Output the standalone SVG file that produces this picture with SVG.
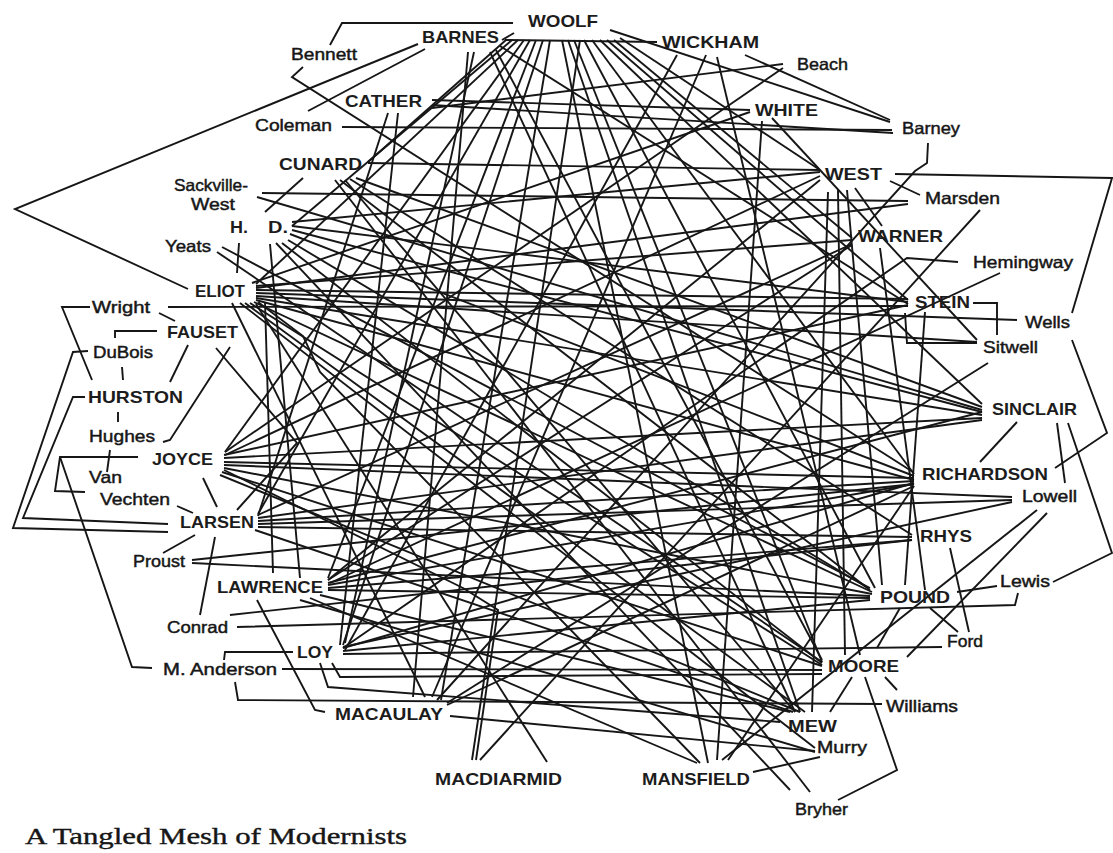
<svg xmlns="http://www.w3.org/2000/svg" width="1113" height="853" viewBox="0 0 1113 853">
<style>
.e{fill:none;stroke:#161616;stroke-width:1.9;stroke-linejoin:miter}
.c{font-family:"Liberation Sans",Arial,sans-serif;font-size:16.5px;font-weight:bold;fill:#1c1c1c}
.l{font-family:"Liberation Sans",Arial,sans-serif;font-size:16.5px;fill:#161616;stroke:#161616;stroke-width:0.45}
.cap{font-family:"Liberation Serif","Times New Roman",serif;font-size:24px;fill:#161616;stroke:#161616;stroke-width:0.4}
</style>
<rect width="1113" height="853" fill="#ffffff"/>
<g id="connectors" class="e">
<path d="M330,45 L342,23 L513,23"/>
<path d="M303,67 L292,77 L913,472"/>
<path d="M418,44 L15,209 L188,289"/>
<path d="M425,49 L308,111"/>
<path d="M342,127 L892,130"/>
<path d="M432,100 L750,110"/>
<path d="M432,105 L893,133"/>
<path d="M610,30 L890,122"/>
<path d="M745,55 L890,120"/>
<path d="M783,64 L432,108"/>
<path d="M783,68 L225,452"/>
<path d="M303,178 L265,212"/>
<path d="M262,193 L908,201"/>
<path d="M257,197 L982,410"/>
<path d="M895,174 L1112,178 L1072,313"/>
<path d="M928,143 L927,163 L915,171 L437,700"/>
<path d="M890,181 L920,195"/>
<path d="M980,210 L480,760"/>
<path d="M958,262 L907,258 L343,648"/>
<path d="M1000,273 L330,583"/>
<path d="M973,303 L997,303 L997,335"/>
<path d="M168,307 L908,306"/>
<path d="M905,313 L907,343 L977,343"/>
<path d="M1072,340 L1107,433 L1055,468"/>
<path d="M1017,422 L980,462"/>
<path d="M1057,423 L1065,483"/>
<path d="M1068,423 L1112,553 L1053,582"/>
<path d="M988,363 L447,703"/>
<path d="M907,657 L1047,513"/>
<path d="M1037,510 L722,760"/>
<path d="M950,548 L969,632"/>
<path d="M957,592 L997,586"/>
<path d="M1018,593 L1015,605 L237,627"/>
<path d="M930,608 L958,632"/>
<path d="M900,608 L877,648"/>
<path d="M885,677 L897,690"/>
<path d="M865,677 L897,770 L838,800"/>
<path d="M852,677 L830,712"/>
<path d="M820,757 L753,772"/>
<path d="M90,307 L62,307 L92,380"/>
<path d="M159,313 L175,321"/>
<path d="M157,331 L115,331 L115,338"/>
<path d="M88,351 L73,352 L13,528 L168,532"/>
<path d="M122,367 L123,380"/>
<path d="M85,397 L73,397 L23,518 L168,524"/>
<path d="M188,345 L170,382"/>
<path d="M230,347 L170,440 L163,442"/>
<path d="M216,348 L297,443 L237,510"/>
<path d="M118,412 L118,422"/>
<path d="M110,450 L107,472"/>
<path d="M138,457 L60,457 L55,491 L85,492"/>
<path d="M60,457 L132,667 L152,668"/>
<path d="M177,506 L193,513"/>
<path d="M203,478 L217,507"/>
<path d="M195,535 L163,553"/>
<path d="M215,537 L200,615"/>
<path d="M293,652 L225,652 L224,660"/>
<path d="M282,669 L822,670"/>
<path d="M235,682 L238,700 L882,704"/>
<path d="M320,663 L328,687 L780,722"/>
<path d="M332,663 L340,677 L822,674"/>
<path d="M257,600 L315,710 L325,712"/>
<path d="M450,716 L815,751"/>
<path d="M239,243 L237,273"/>
<path d="M222,247 L870,588"/>
<path d="M217,252 L822,662"/>
<path d="M506,40 L368,162"/>
<path d="M512,40 L292,226"/>
<path d="M518,40 L256,284"/>
<path d="M524,40 L225,452"/>
<path d="M530,40 L258,514"/>
<path d="M536,40 L328,578"/>
<path d="M543,40 L343,645"/>
<path d="M550,40 L441,700"/>
<path d="M580,40 L472,760"/>
<path d="M562,40 L708,763"/>
<path d="M568,40 L800,712"/>
<path d="M574,40 L822,662"/>
<path d="M584,40 L875,588"/>
<path d="M592,40 L914,474"/>
<path d="M600,40 L982,404"/>
<path d="M607,40 L908,300"/>
<path d="M614,40 L852,238"/>
<path d="M620,38 L820,170"/>
<path d="M502,40 L514,33"/>
<path d="M505,40 L657,42"/>
<path d="M468,52 L413,697"/>
<path d="M474,52 L345,643"/>
<path d="M490,52 L795,712"/>
<path d="M496,50 L822,660"/>
<path d="M500,46 L908,304"/>
<path d="M677,55 L345,650"/>
<path d="M706,55 L432,697"/>
<path d="M717,57 L860,655"/>
<path d="M388,113 L258,516"/>
<path d="M398,113 L340,645"/>
<path d="M368,163 L820,170"/>
<path d="M356,178 L982,407"/>
<path d="M345,180 L795,712"/>
<path d="M350,179 L912,535"/>
<path d="M340,180 L870,590"/>
<path d="M335,180 L810,792"/>
<path d="M772,118 L977,340"/>
<path d="M252,283 L750,112"/>
<path d="M762,121 L717,760"/>
<path d="M828,192 L812,712"/>
<path d="M838,190 L845,655"/>
<path d="M847,190 L882,585"/>
<path d="M855,188 L882,226"/>
<path d="M225,455 L820,176"/>
<path d="M328,580 L820,180"/>
<path d="M292,222 L820,172"/>
<path d="M292,226 L908,302"/>
<path d="M292,230 L982,412"/>
<path d="M290,234 L914,476"/>
<path d="M288,240 L868,588"/>
<path d="M282,243 L822,663"/>
<path d="M276,243 L790,790"/>
<path d="M270,244 L300,578"/>
<path d="M256,290 L908,299"/>
<path d="M256,293 L1017,320"/>
<path d="M256,296 L977,342"/>
<path d="M256,298 L982,415"/>
<path d="M256,300 L914,480"/>
<path d="M254,302 L872,592"/>
<path d="M250,303 L822,665"/>
<path d="M245,303 L805,712"/>
<path d="M240,303 L815,748"/>
<path d="M265,302 L273,573"/>
<path d="M256,304 L547,762"/>
<path d="M256,286 L852,240"/>
<path d="M256,288 L908,204"/>
<path d="M258,302 L303,336 L320,372 L700,763"/>
<path d="M232,303 L425,697"/>
<path d="M224,455 L908,305"/>
<path d="M224,458 L982,418"/>
<path d="M224,462 L914,478"/>
<path d="M224,465 L1012,497"/>
<path d="M224,468 L872,594"/>
<path d="M222,472 L822,666"/>
<path d="M220,475 L800,712"/>
<path d="M224,470 L463,588 L498,610 L476,760"/>
<path d="M258,515 L852,244"/>
<path d="M258,518 L982,420"/>
<path d="M258,521 L914,481"/>
<path d="M258,524 L1012,500"/>
<path d="M258,527 L912,537"/>
<path d="M255,530 L793,712"/>
<path d="M192,560 L914,484"/>
<path d="M192,563 L870,596"/>
<path d="M230,615 L912,540"/>
<path d="M328,580 L852,245"/>
<path d="M328,583 L982,412"/>
<path d="M328,585 L914,484"/>
<path d="M328,588 L912,540"/>
<path d="M328,590 L870,598"/>
<path d="M320,595 L790,712"/>
<path d="M300,600 L815,752"/>
<path d="M310,598 L697,763"/>
<path d="M343,648 L914,483"/>
<path d="M343,651 L870,600"/>
<path d="M343,654 L942,647"/>
<path d="M343,647 L1012,502"/>
<path d="M925,312 L905,585"/>
<path d="M880,248 L925,590"/>
<path d="M447,705 L914,486"/>
<path d="M728,760 L914,486"/>
</g>
<g id="n-woolf"><text class="c" x="528" y="27" textLength="70" lengthAdjust="spacingAndGlyphs">WOOLF</text></g>
<g id="n-barnes"><text class="c" x="422" y="43" textLength="77" lengthAdjust="spacingAndGlyphs">BARNES</text></g>
<g id="n-wickham"><text class="c" x="662" y="48" textLength="97" lengthAdjust="spacingAndGlyphs">WICKHAM</text></g>
<g id="n-bennett"><text class="l" x="291" y="60" textLength="66" lengthAdjust="spacingAndGlyphs">Bennett</text></g>
<g id="n-beach"><text class="l" x="797" y="70" textLength="51" lengthAdjust="spacingAndGlyphs">Beach</text></g>
<g id="n-cather"><text class="c" x="345" y="107" textLength="77" lengthAdjust="spacingAndGlyphs">CATHER</text></g>
<g id="n-white"><text class="c" x="755" y="116" textLength="63" lengthAdjust="spacingAndGlyphs">WHITE</text></g>
<g id="n-coleman"><text class="l" x="255" y="131" textLength="77" lengthAdjust="spacingAndGlyphs">Coleman</text></g>
<g id="n-barney"><text class="l" x="902" y="134" textLength="58" lengthAdjust="spacingAndGlyphs">Barney</text></g>
<g id="n-cunard"><text class="c" x="279" y="170" textLength="83" lengthAdjust="spacingAndGlyphs">CUNARD</text></g>
<g id="n-west"><text class="c" x="825" y="180" textLength="57" lengthAdjust="spacingAndGlyphs">WEST</text></g>
<g id="n-sackville-west"><text class="l" x="174" y="191" textLength="74" lengthAdjust="spacingAndGlyphs">Sackville-</text><text class="l" x="191" y="210" textLength="44" lengthAdjust="spacingAndGlyphs">West</text></g>
<g id="n-marsden"><text class="l" x="925" y="204" textLength="75" lengthAdjust="spacingAndGlyphs">Marsden</text></g>
<g id="n-hd"><text class="c" x="230" y="233" textLength="18" lengthAdjust="spacingAndGlyphs">H.</text><text class="c" x="268" y="233" textLength="20" lengthAdjust="spacingAndGlyphs">D.</text></g>
<g id="n-warner"><text class="c" x="858" y="242" textLength="85" lengthAdjust="spacingAndGlyphs">WARNER</text></g>
<g id="n-yeats"><text class="l" x="165" y="252" textLength="46" lengthAdjust="spacingAndGlyphs">Yeats</text></g>
<g id="n-hemingway"><text class="l" x="973" y="268" textLength="100" lengthAdjust="spacingAndGlyphs">Hemingway</text></g>
<g id="n-eliot"><text class="c" x="195" y="297" textLength="50" lengthAdjust="spacingAndGlyphs">ELIOT</text></g>
<g id="n-stein"><text class="c" x="915" y="308" textLength="55" lengthAdjust="spacingAndGlyphs">STEIN</text></g>
<g id="n-wright"><text class="l" x="92" y="313" textLength="58" lengthAdjust="spacingAndGlyphs">Wright</text></g>
<g id="n-wells"><text class="l" x="1025" y="328" textLength="45" lengthAdjust="spacingAndGlyphs">Wells</text></g>
<g id="n-fauset"><text class="c" x="167" y="338" textLength="71" lengthAdjust="spacingAndGlyphs">FAUSET</text></g>
<g id="n-sitwell"><text class="l" x="983" y="353" textLength="55" lengthAdjust="spacingAndGlyphs">Sitwell</text></g>
<g id="n-dubois"><text class="l" x="93" y="358" textLength="60" lengthAdjust="spacingAndGlyphs">DuBois</text></g>
<g id="n-hurston"><text class="c" x="88" y="403" textLength="95" lengthAdjust="spacingAndGlyphs">HURSTON</text></g>
<g id="n-sinclair"><text class="c" x="992" y="415" textLength="85" lengthAdjust="spacingAndGlyphs">SINCLAIR</text></g>
<g id="n-hughes"><text class="l" x="89" y="442" textLength="66" lengthAdjust="spacingAndGlyphs">Hughes</text></g>
<g id="n-joyce"><text class="c" x="152" y="465" textLength="61" lengthAdjust="spacingAndGlyphs">JOYCE</text></g>
<g id="n-richardson"><text class="c" x="922" y="480" textLength="126" lengthAdjust="spacingAndGlyphs">RICHARDSON</text></g>
<g id="n-van-vechten"><text class="l" x="89" y="483" textLength="33" lengthAdjust="spacingAndGlyphs">Van</text><text class="l" x="100" y="505" textLength="70" lengthAdjust="spacingAndGlyphs">Vechten</text></g>
<g id="n-lowell"><text class="l" x="1022" y="502" textLength="55" lengthAdjust="spacingAndGlyphs">Lowell</text></g>
<g id="n-larsen"><text class="c" x="180" y="528" textLength="74" lengthAdjust="spacingAndGlyphs">LARSEN</text></g>
<g id="n-rhys"><text class="c" x="920" y="542" textLength="52" lengthAdjust="spacingAndGlyphs">RHYS</text></g>
<g id="n-proust"><text class="l" x="133" y="567" textLength="52" lengthAdjust="spacingAndGlyphs">Proust</text></g>
<g id="n-lewis"><text class="l" x="1000" y="587" textLength="50" lengthAdjust="spacingAndGlyphs">Lewis</text></g>
<g id="n-lawrence"><text class="c" x="217" y="593" textLength="106" lengthAdjust="spacingAndGlyphs">LAWRENCE</text></g>
<g id="n-pound"><text class="c" x="880" y="603" textLength="70" lengthAdjust="spacingAndGlyphs">POUND</text></g>
<g id="n-conrad"><text class="l" x="167" y="633" textLength="61" lengthAdjust="spacingAndGlyphs">Conrad</text></g>
<g id="n-ford"><text class="l" x="947" y="647" textLength="36" lengthAdjust="spacingAndGlyphs">Ford</text></g>
<g id="n-loy"><text class="c" x="297" y="658" textLength="36" lengthAdjust="spacingAndGlyphs">LOY</text></g>
<g id="n-moore"><text class="c" x="828" y="672" textLength="71" lengthAdjust="spacingAndGlyphs">MOORE</text></g>
<g id="n-m-anderson"><text class="l" x="163" y="675" textLength="114" lengthAdjust="spacingAndGlyphs">M. Anderson</text></g>
<g id="n-williams"><text class="l" x="886" y="712" textLength="72" lengthAdjust="spacingAndGlyphs">Williams</text></g>
<g id="n-macaulay"><text class="c" x="335" y="720" textLength="108" lengthAdjust="spacingAndGlyphs">MACAULAY</text></g>
<g id="n-mew"><text class="c" x="788" y="732" textLength="49" lengthAdjust="spacingAndGlyphs">MEW</text></g>
<g id="n-murry"><text class="l" x="817" y="753" textLength="50" lengthAdjust="spacingAndGlyphs">Murry</text></g>
<g id="n-macdiarmid"><text class="c" x="435" y="785" textLength="127" lengthAdjust="spacingAndGlyphs">MACDIARMID</text></g>
<g id="n-mansfield"><text class="c" x="642" y="785" textLength="108" lengthAdjust="spacingAndGlyphs">MANSFIELD</text></g>
<g id="n-bryher"><text class="l" x="795" y="815" textLength="53" lengthAdjust="spacingAndGlyphs">Bryher</text></g>
<text class="cap" x="25" y="844" textLength="382" lengthAdjust="spacingAndGlyphs">A Tangled Mesh of Modernists</text>
</svg>
